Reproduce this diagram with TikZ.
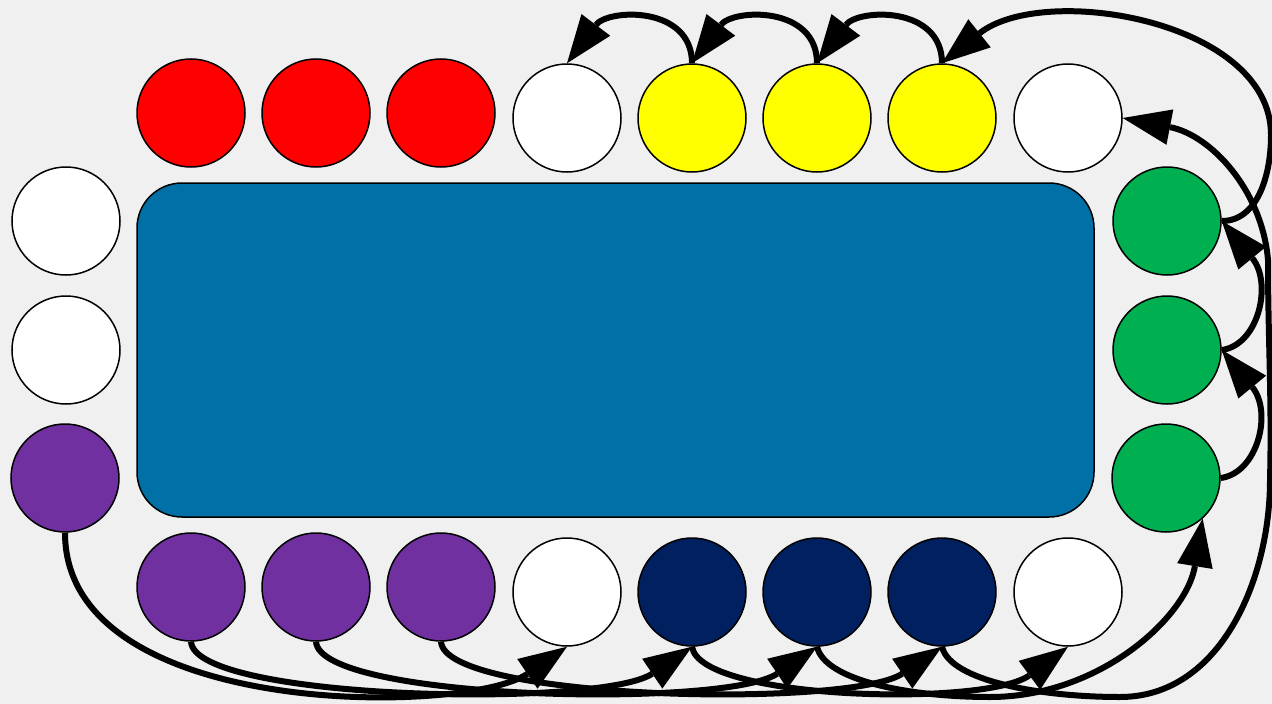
\documentclass[tikz,border=0pt]{standalone}
\usetikzlibrary{arrows.meta}
\definecolor{bg}{HTML}{F0F0F0}
\definecolor{boardblue}{HTML}{0070A6}
\definecolor{cred}{HTML}{FF0000}
\definecolor{cyellow}{HTML}{FFFF00}
\definecolor{cgreen}{HTML}{00B050}
\definecolor{cpurple}{HTML}{7030A0}
\definecolor{cnavy}{HTML}{002060}
\begin{document}
\begin{tikzpicture}[x=1pt,y=-1pt,
  dot/.style={circle,draw=black,line width=1.5pt,minimum size=108pt,inner sep=0pt},
  link/.style={line width=6pt,-{Triangle[length=48pt,width=36pt,line width=0pt]}}]
\fill[bg] (0,0) rectangle (1272,704);
\useasboundingbox (0,0) rectangle (1272,704);
% board
\node[draw=black,fill=boardblue,rounded corners=45pt,minimum width=957pt,minimum height=334pt,line width=1.5pt,inner sep=0pt] (board) at (615.5,350) {};
% top row
\node[dot,fill=cred] (r1) at (191,113) {};
\node[dot,fill=cred] (r2) at (316,113) {};
\node[dot,fill=cred] (r3) at (441,113) {};
\node[dot,fill=white] (wt1) at (567,118) {};
\node[dot,fill=cyellow] (y1) at (692,118) {};
\node[dot,fill=cyellow] (y2) at (817,118) {};
\node[dot,fill=cyellow] (y3) at (942,118) {};
\node[dot,fill=white] (wt2) at (1068,118) {};
% left column
\node[dot,fill=white] (wl1) at (66,221) {};
\node[dot,fill=white] (wl2) at (66,350) {};
\node[dot,fill=cpurple] (pl) at (65,478) {};
% right column
\node[dot,fill=cgreen] (g1) at (1167,221) {};
\node[dot,fill=cgreen] (g2) at (1167,350) {};
\node[dot,fill=cgreen] (g3) at (1166,478) {};
% bottom row
\node[dot,fill=cpurple] (b1) at (191,587) {};
\node[dot,fill=cpurple] (b2) at (316,587) {};
\node[dot,fill=cpurple] (b3) at (441,587) {};
\node[dot,fill=white] (wb1) at (567,592) {};
\node[dot,fill=cnavy] (n1) at (692,592) {};
\node[dot,fill=cnavy] (n2) at (817,592) {};
\node[dot,fill=cnavy] (n3) at (942,592) {};
\node[dot,fill=white] (wb2) at (1068,592) {};
% top arrows
\draw[link] (y1.north) .. controls +(0,-58) and +(41,-54.5) .. (wt1.north);
\draw[link] (y2.north) .. controls +(0,-58) and +(41,-54.5) .. (y1.north);
\draw[link] (y3.north) .. controls +(0,-58) and +(41,-54.5) .. (y2.north);
\draw[link] (g1.east) .. controls +(36,0) and +(0,40) .. (1271,135)
  .. controls +(0,-115) and +(101,-80.6) .. (y3.north);
% right arrows
\draw[link] (g2.east) .. controls +(37,-5) and +(51,62) .. (g1.east);
\draw[link] (g3.east) .. controls +(37,-5) and +(51,62) .. (g2.east);
% bottom arrows
\draw[link] (n3.south) .. controls +(8,34) and +(-80,0) .. (1120,697)
  .. controls +(100,0) and +(0,100) .. (1270,480)
  .. controls +(2,-80) and +(0,80) .. (1268,260)
  .. controls +(-6,-70) and +(88,17) .. (wt2.east);
\draw[link] (n2.south) .. controls +(8,34) and +(-80,0) .. (990,697)
  .. controls +(110,0) and +(-16,98) .. (g3.-48);
\draw[link] (n1.south) .. controls +(8,54) and +(-81,60) .. (wb2.south);
\draw[link] (b3.south) .. controls +(4,59) and +(-91,61.6) .. (n3.south);
\draw[link] (b2.south) .. controls +(4,59) and +(-91,61.6) .. (n2.south);
\draw[link] (b1.south) .. controls +(4,59) and +(-91,61.6) .. (n1.south);
\draw[link] (pl.south) .. controls +(0,188) and +(-100,68.4) .. (wb1.south);
\end{tikzpicture}
\end{document}
